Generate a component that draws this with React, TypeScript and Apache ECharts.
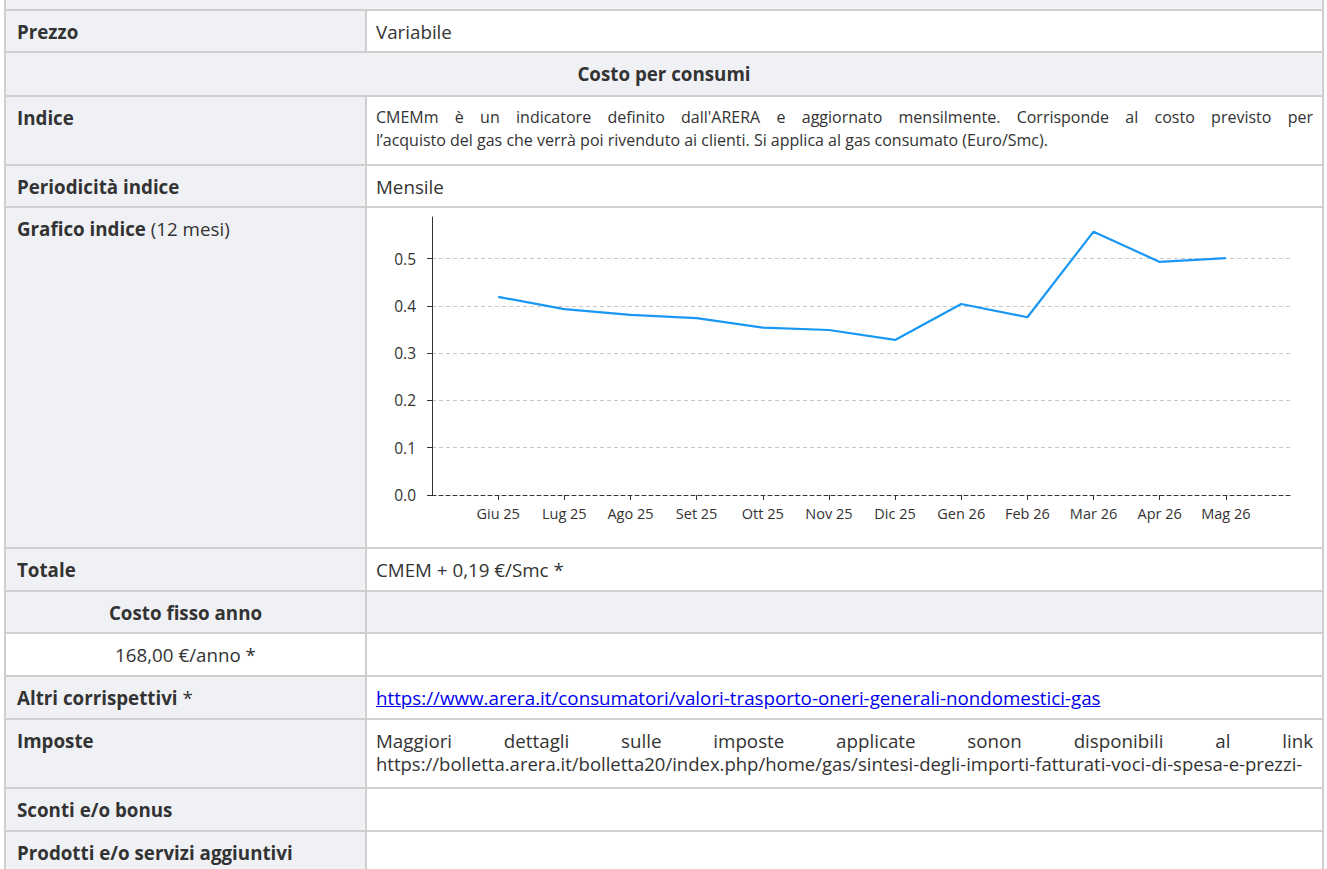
import React, { useEffect, useRef } from "react";
import * as echarts from "echarts";

const months = ["Giu 25", "Lug 25", "Ago 25", "Set 25", "Ott 25", "Nov 25", "Dic 25", "Gen 26", "Feb 26", "Mar 26", "Apr 26", "Mag 26"];
const cmemValues = [0.419, 0.393, 0.381, 0.374, 0.354, 0.349, 0.328, 0.404, 0.376, 0.557, 0.493, 0.501];
const yTickValues = [0, 0.1, 0.2, 0.3, 0.4, 0.5];
const yAxisMax = 0.588;

const FONT = "'Open Sans', 'Noto Sans', sans-serif";
const GRAY = "#f0f1f5";
const LINE = "#cfcfcf";
const TEXT = "#333";

const X0 = 4;
const XM = 366;
const X1 = 1323;
const ROW_Y = [-30, 10, 52, 96, 165, 207, 548, 591, 633, 676, 719, 788, 831, 874];

function Chart() {
  const ref = useRef<HTMLDivElement>(null);
  useEffect(() => {
    if (!ref.current) return;
    const chart = echarts.init(ref.current, undefined, { renderer: "svg" });
    const cats = ["", ...months, ""];
    const data = [null, ...cmemValues, null];
    chart.setOption({
      animation: false,
      grid: { left: 65, right: 30, top: 9, bottom: 52, containLabel: false },
      xAxis: {
        type: "category",
        data: cats,
        boundaryGap: false,
        axisLine: { show: true, lineStyle: { color: "#333", type: [4, 3], width: 1 } },
        axisTick: {
          show: true,
          length: 5,
          interval: (_i: number, v: string) => v !== "",
          lineStyle: { color: "#333" },
        },
        axisLabel: { interval: 0, color: "#333", fontSize: 14.5, fontFamily: FONT, margin: 11 },
        splitLine: { show: false },
      },
      yAxis: {
        type: "value",
        min: 0,
        max: yAxisMax,
        interval: 0.1,
        axisLine: { show: true, lineStyle: { color: "#333", width: 1 } },
        axisTick: { show: true, length: 5, lineStyle: { color: "#333" }, customValues: yTickValues },
        axisLabel: {
          color: "#333",
          fontSize: 15.5,
          fontFamily: FONT,
          margin: 16,
          customValues: yTickValues,
          formatter: (v: number) =>
            Math.abs(v * 10 - Math.round(v * 10)) < 1e-6 ? v.toFixed(1) : "",
        },
        splitLine: {
          show: true,
          showMinLine: false,
          lineStyle: { color: "#c8c8c8", type: [4, 3], width: 1 },
        },
      },
      series: [
        {
          type: "line",
          data,
          showSymbol: false,
          symbol: "none",
          lineStyle: { color: "#1897f5", width: 2.2 },
          itemStyle: { color: "#1897f5" },
        },
      ],
    });
    return () => chart.dispose();
  }, []);
  return <div ref={ref} style={{ position: "absolute", left: XM + 1, top: 208, width: 955, height: 339 }} />;
}

type Cell = {
  x0: number;
  x1: number;
  bg: string;
  content?: React.ReactNode;
  align?: "left" | "center";
  bold?: boolean;
};

export default function App() {
  useEffect(() => {
    document.body.style.margin = "0";
  }, []);

  const rows: Cell[][] = [
    [{ x0: X0, x1: X1, bg: GRAY }],
    [
      { x0: X0, x1: XM, bg: GRAY, content: "Prezzo", bold: true },
      { x0: XM, x1: X1, bg: "#fff", content: "Variabile" },
    ],
    [{ x0: X0, x1: X1, bg: GRAY, content: "Costo per consumi", bold: true, align: "center" }],
    [
      { x0: X0, x1: XM, bg: GRAY, content: "Indice", bold: true },
      {
        x0: XM,
        x1: X1,
        bg: "#fff",
        content: (
          <div style={{ fontSize: 16 }}>
            <div style={{ textAlign: "justify", textAlignLast: "justify", whiteSpace: "nowrap" }}>
              CMEMm è un indicatore definito dall'ARERA e aggiornato mensilmente. Corrisponde al costo previsto per
            </div>
            <div style={{ whiteSpace: "nowrap" }}>
              l’acquisto del gas che verrà poi rivenduto ai clienti. Si applica al gas consumato (Euro/Smc).
            </div>
          </div>
        ),
      },
    ],
    [
      { x0: X0, x1: XM, bg: GRAY, content: "Periodicità indice", bold: true },
      { x0: XM, x1: X1, bg: "#fff", content: "Mensile" },
    ],
    [
      {
        x0: X0,
        x1: XM,
        bg: GRAY,
        content: (
          <>
            <b>Grafico indice</b> (12 mesi)
          </>
        ),
      },
      { x0: XM, x1: X1, bg: "#fff" },
    ],
    [
      { x0: X0, x1: XM, bg: GRAY, content: "Totale", bold: true },
      { x0: XM, x1: X1, bg: "#fff", content: "CMEM + 0,19 €/Smc *" },
    ],
    [
      { x0: X0, x1: XM, bg: GRAY, content: "Costo fisso anno", bold: true, align: "center" },
      { x0: XM, x1: X1, bg: GRAY },
    ],
    [
      { x0: X0, x1: XM, bg: "#fff", content: "168,00 €/anno *", align: "center" },
      { x0: XM, x1: X1, bg: "#fff" },
    ],
    [
      {
        x0: X0,
        x1: XM,
        bg: GRAY,
        content: (
          <>
            <b>Altri corrispettivi</b> *
          </>
        ),
      },
      {
        x0: XM,
        x1: X1,
        bg: "#fff",
        content: (
          <a href="#" style={{ color: "#0000ee", textDecoration: "underline" }}>
            https://www.arera.it/consumatori/valori-trasporto-oneri-generali-nondomestici-gas
          </a>
        ),
      },
    ],
    [
      { x0: X0, x1: XM, bg: GRAY, content: "Imposte", bold: true },
      {
        x0: XM,
        x1: X1,
        bg: "#fff",
        content: (
          <>
            <div style={{ textAlign: "justify", textAlignLast: "justify", whiteSpace: "nowrap" }}>
              Maggiori dettagli sulle imposte applicate sonon disponibili al link
            </div>
            <div style={{ whiteSpace: "nowrap", fontSize: 18.5 }}>
              https://bolletta.arera.it/bolletta20/index.php/home/gas/sintesi-degli-importi-fatturati-voci-di-spesa-e-prezzi-
            </div>
          </>
        ),
      },
    ],
    [
      { x0: X0, x1: XM, bg: GRAY, content: "Sconti e/o bonus", bold: true },
      { x0: XM, x1: X1, bg: "#fff" },
    ],
    [
      { x0: X0, x1: XM, bg: GRAY, content: "Prodotti e/o servizi aggiuntivi", bold: true },
      { x0: XM, x1: X1, bg: "#fff" },
    ],
  ];

  const els: React.ReactNode[] = [];
  rows.forEach((cells, r) => {
    const y0 = ROW_Y[r];
    const y1 = ROW_Y[r + 1];
    cells.forEach((c, k) => {
      els.push(
        <div
          key={`c${r}-${k}`}
          style={{
            position: "absolute",
            left: c.x0,
            top: y0,
            width: c.x1 - c.x0,
            height: y1 - y0,
            background: c.bg,
            boxSizing: "border-box",
            padding: c.x0 === XM ? "10px 10px 0 10px" : "10px 12px 0 13px",
            textAlign: c.align || "left",
            fontWeight: c.bold ? 700 : 400,
            overflow: "hidden",
          }}
        >
          {c.content}
        </div>
      );
    });
    if (cells.length > 1) {
      els.push(
        <div key={`v${r}`} style={{ position: "absolute", left: XM - 1, top: y0, width: 2, height: y1 - y0, background: LINE }} />
      );
    }
  });
  ROW_Y.forEach((y, i) => {
    if (i === 0) return;
    els.push(<div key={`h${i}`} style={{ position: "absolute", left: X0, top: y - 1, width: X1 - X0 + 1, height: 2, background: LINE }} />);
  });
  els.push(<div key="lb" style={{ position: "absolute", left: X0, top: 0, width: 2, height: 869, background: LINE }} />);
  els.push(<div key="rb" style={{ position: "absolute", left: X1 - 1, top: 0, width: 2, height: 869, background: LINE }} />);

  return (
    <div
      style={{
        position: "absolute",
        left: 0,
        top: 0,
        width: 1327,
        height: 869,
        overflow: "hidden",
        background: "#fff",
        fontFamily: FONT,
        fontSize: 18.75,
        lineHeight: "23px",
        color: TEXT,
      }}
    >
      {els}
      <Chart />
    </div>
  );
}
